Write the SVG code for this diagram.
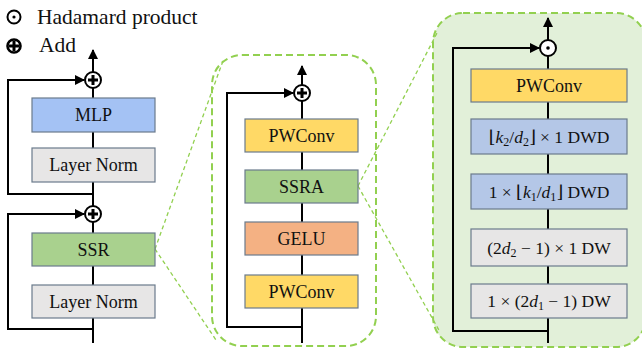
<svg xmlns="http://www.w3.org/2000/svg" width="642" height="350" viewBox="0 0 642 350">
<defs>
<marker id="ah" viewBox="0 0 10 10" refX="9" refY="5" markerWidth="5" markerHeight="5" orient="auto" markerUnits="strokeWidth">
<path d="M0,0 L10,5 L0,10 Z" fill="#000"/>
</marker>
<style>
.t{font-family:"Liberation Serif","Times New Roman",serif;font-size:18px;fill:#111;text-anchor:middle}
.lg{font-family:"Liberation Serif","Times New Roman",serif;font-size:21.5px;fill:#111}
.m{font-family:"Liberation Serif","DejaVu Serif",serif;font-size:17.5px;fill:#111;text-anchor:middle}
.i{font-style:italic}
.s{font-size:12px}
.box{stroke:#6b7b8c;stroke-width:1.2}
.blue{fill:#a4c2f4}.gray{fill:#e7e6e6}.green{fill:#a9d18e}.orange{fill:#f4b183}.yellow{fill:#ffd966}.lblue{fill:#b4c7e7}
.ln{fill:none;stroke:#000;stroke-width:2}
.zl{fill:none;stroke:#92d050;stroke-width:1.3;stroke-dasharray:4 3}
.panel{stroke:#92d050;stroke-width:2;stroke-dasharray:7 4}
.op{fill:#fff;stroke:#000;stroke-width:2}
.pl{stroke:#000;stroke-width:3}
</style>
</defs>

<!-- panels -->
<rect id="panel-ssr" class="panel" x="212" y="55" width="164" height="291" rx="30" fill="none"/>
<rect id="panel-ssra" class="panel" x="433" y="13" width="213" height="334" rx="30" fill="#e2f0d9"/>

<!-- legend -->
<g id="legend">
<circle cx="14" cy="17" r="6.5" fill="#fff" stroke="#000" stroke-width="2"/>
<circle cx="14" cy="17" r="1.6" fill="#000"/>
<text class="lg" x="37" y="24">Hadamard product</text>
<circle cx="14" cy="46" r="6.5" fill="#fff" stroke="#000" stroke-width="2.6"/>
<path d="M9,46 H19 M14,41 V51" stroke="#000" stroke-width="3"/>
<text class="lg" x="39" y="52">Add</text>
</g>

<!-- connectors -->
<g id="connectors">
<!-- left column -->
<path class="ln" d="M93,343 V222"/>
<path class="ln" d="M93,206 V88"/>
<path class="ln" d="M93,72 V50" marker-end="url(#ah)"/>
<path class="ln" d="M93,329 H8 V214 H84" marker-end="url(#ah)"/>
<path class="ln" d="M93,194 H8 V80 H84" marker-end="url(#ah)"/>
<!-- middle column -->
<path class="ln" d="M302,343 V101"/>
<path class="ln" d="M302,85 V66" marker-end="url(#ah)"/>
<path class="ln" d="M302,327 H227 V93 H293" marker-end="url(#ah)"/>
<!-- right column -->
<path class="ln" d="M548,343 V56"/>
<path class="ln" d="M548,40 V18" marker-end="url(#ah)"/>
<path class="ln" d="M548,331 H453 V48 H539" marker-end="url(#ah)"/>
<!-- zoom lines -->
<path class="zl" d="M155,249 L224,58"/>
<path class="zl" d="M155,249 L216,340"/>
<path class="zl" d="M358,186 L437,33"/>
<path class="zl" d="M358,186 L440,332"/>
</g>

<!-- operators -->
<g id="add-top"><circle class="op" cx="93" cy="80" r="8"/><path class="pl" d="M88,80 H98 M93,75 V85"/></g>
<g id="add-mid"><circle class="op" cx="93" cy="214" r="8"/><path class="pl" d="M88,214 H98 M93,209 V219"/></g>
<g id="add-ssr"><circle class="op" cx="302" cy="93" r="8"/><path class="pl" d="M297,93 H307 M302,88 V98"/></g>
<g id="hadamard"><circle class="op" cx="548" cy="48" r="8"/><circle cx="548" cy="48" r="1.8" fill="#000"/></g>

<!-- left column nodes -->
<g id="mlp"><rect class="box blue" x="32" y="98" width="123" height="34"/><text class="t" x="93.5" y="121">MLP</text></g>
<g id="ln1"><rect class="box gray" x="32" y="148" width="123" height="34"/><text class="t" x="93.5" y="171">Layer Norm</text></g>
<g id="ssr"><rect class="box green" x="32" y="233" width="123" height="33"/><text class="t" x="93.5" y="256">SSR</text></g>
<g id="ln2"><rect class="box gray" x="32" y="285" width="123" height="33"/><text class="t" x="93.5" y="308">Layer Norm</text></g>

<!-- middle column nodes -->
<g id="pwconv1"><rect class="box yellow" x="245" y="119" width="113" height="33"/><text class="t" x="301.5" y="142">PWConv</text></g>
<g id="ssra"><rect class="box green" x="245" y="170" width="113" height="33"/><text class="t" x="301.5" y="193">SSRA</text></g>
<g id="gelu"><rect class="box orange" x="245" y="222" width="113" height="33"/><text class="t" x="301.5" y="245">GELU</text></g>
<g id="pwconv2"><rect class="box yellow" x="245" y="275" width="113" height="33"/><text class="t" x="301.5" y="298">PWConv</text></g>

<!-- right column nodes -->
<g id="pwconv3"><rect class="box yellow" x="471" y="69" width="156" height="33"/><text class="t" x="549" y="92">PWConv</text></g>
<g id="dwd1"><rect class="box lblue" x="471" y="119" width="156" height="35"/>
<text class="m" x="549" y="143">⌊<tspan class="i">k</tspan><tspan class="s" dy="3">2</tspan><tspan dy="-3">/</tspan><tspan class="i">d</tspan><tspan class="s" dy="3">2</tspan><tspan dy="-3">⌋ × 1 DWD</tspan></text></g>
<g id="dwd2"><rect class="box lblue" x="471" y="174" width="156" height="35"/>
<text class="m" x="549" y="198">1 × ⌊<tspan class="i">k</tspan><tspan class="s" dy="3">1</tspan><tspan dy="-3">/</tspan><tspan class="i">d</tspan><tspan class="s" dy="3">1</tspan><tspan dy="-3">⌋ DWD</tspan></text></g>
<g id="dw1"><rect class="box gray" x="471" y="229" width="156" height="37"/>
<text class="m" x="549" y="254">(2<tspan class="i">d</tspan><tspan class="s" dy="3">2</tspan><tspan dy="-3"> − 1) × 1 DW</tspan></text></g>
<g id="dw2"><rect class="box gray" x="471" y="284" width="156" height="34"/>
<text class="m" x="549" y="307">1 × (2<tspan class="i">d</tspan><tspan class="s" dy="3">1</tspan><tspan dy="-3"> − 1) DW</tspan></text></g>
</svg>
